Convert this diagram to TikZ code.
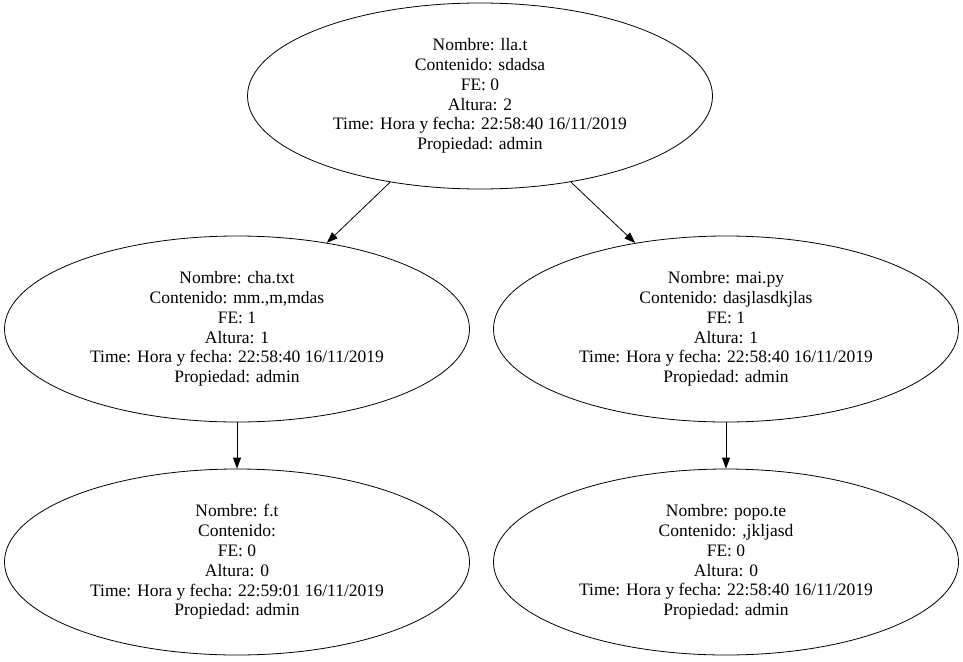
\documentclass[tikz,border=0pt]{standalone}
\usepackage{fontspec}
\setmainfont{Liberation Serif}
\usetikzlibrary{shapes.geometric,arrows.meta}

\tikzset{
  nodoAVL/.style={draw, ellipse, line width=0.8pt, minimum width=465pt,
    minimum height=186pt, inner sep=0pt, align=center,
    font=\fontsize{17.5}{19.8}\selectfont},
  hijo/.style={-{Triangle[length=11pt,width=8pt]}, line width=0.8pt}
}

\begin{document}
\begin{tikzpicture}[x=1pt, y=-1pt]
  \useasboundingbox (0,0) rectangle (963,661);
  \node[nodoAVL] (lla) at (480,96) {Nombre: lla.t\\Contenido: sdadsa\\FE: 0\\Altura: 2\\Time: Hora y fecha: 22:58:40 16/11/2019\\Propiedad: admin};

  \node[nodoAVL] (cha) at (237,329) {Nombre: cha.txt\\Contenido: mm.,m,mdas\\FE: 1\\Altura: 1\\Time: Hora y fecha: 22:58:40 16/11/2019\\Propiedad: admin};
  \node[nodoAVL] (mai) at (726,329) {Nombre: mai.py\\Contenido: dasjlasdkjlas\\FE: 1\\Altura: 1\\Time: Hora y fecha: 22:58:40 16/11/2019\\Propiedad: admin};

  \node[nodoAVL] (ft) at (237,562) {Nombre: f.t\\Contenido:\\FE: 0\\Altura: 0\\Time: Hora y fecha: 22:59:01 16/11/2019\\Propiedad: admin};
  \node[nodoAVL] (popo) at (726,562) {Nombre: popo.te\\Contenido: ,jkljasd\\FE: 0\\Altura: 0\\Time: Hora y fecha: 22:58:40 16/11/2019\\Propiedad: admin};

  \draw[hijo] (lla) -- (cha);
  \draw[hijo] (lla) -- (mai);
  \draw[hijo] (cha) -- (ft);
  \draw[hijo] (mai) -- (popo);
\end{tikzpicture}
\end{document}
